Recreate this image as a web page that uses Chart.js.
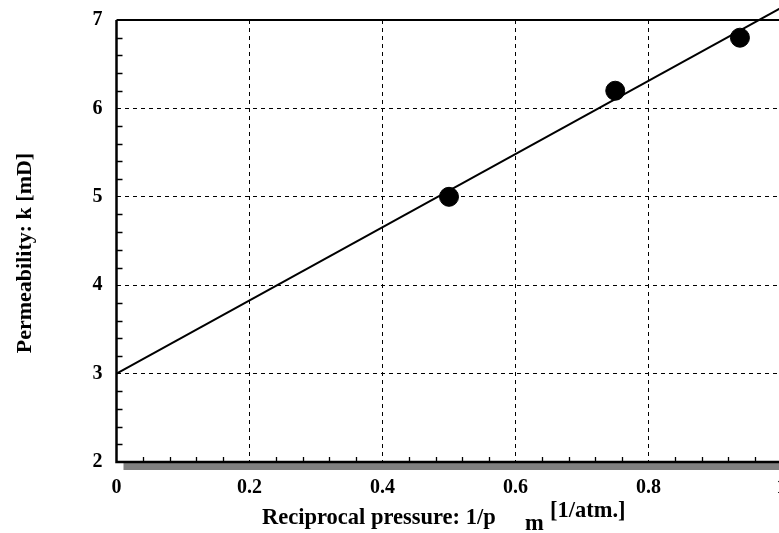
<!DOCTYPE html>
<html>
<head>
<meta charset="utf-8">
<script src="https://cdn.jsdelivr.net/npm/chart.js@4/dist/chart.umd.min.js"></script>
<style>
  html, body { margin: 0; padding: 0; background: #fff; overflow: hidden; }
  #wrap { width: 800px; height: 533px; }
</style>
</head>
<body>
<div id="wrap"><canvas id="myChart" width="800" height="533"></canvas></div>
<script>
// measured points
const pressureInv = [0.5, 0.75, 0.9375];
const permeability = [5.0, 6.2, 6.8];

// fitted straight line (Klinkenberg)
const fitX = [0, 1];
const fitY = [3.0, 7.14];

// tick labels
const xTicks = [0, 0.2, 0.4, 0.6, 0.8, 1];
const yTicks = [2, 3, 4, 5, 6, 7];
const xMinor = [0.04, 0.08, 0.12, 0.16, 0.24, 0.28, 0.32, 0.36, 0.44, 0.48, 0.52, 0.56,
                0.64, 0.68, 0.72, 0.76, 0.84, 0.88, 0.92, 0.96];
const yMinor = [2.2, 2.4, 2.6, 2.8, 3.2, 3.4, 3.6, 3.8, 4.2, 4.4, 4.6, 4.8,
                5.2, 5.4, 5.6, 5.8, 6.2, 6.4, 6.6, 6.8];

const xTitle = 'Reciprocal pressure: 1/p';
const xTitleSub = 'm';
const xTitleUnit = '[1/atm.]';
const yTitle = 'Permeability: k [mD]';

const serif = '"Liberation Serif", "Times New Roman", serif';

// eigene Zeichnungen: Rahmen, kleine Ticks, Schatten, Achsentitel
const decor = {
  id: 'decor',
  beforeDatasetsDraw(chart) {
    const ctx = chart.ctx;
    const a = chart.chartArea;
    const xs = chart.scales.x, ys = chart.scales.y;
    ctx.save();
    // grey shadow under x axis
    ctx.fillStyle = '#808080';
    ctx.fillRect(a.left + 7, a.bottom + 1, chart.width, 7);
    ctx.strokeStyle = '#000';
    ctx.lineWidth = 1.3;
    ctx.beginPath();
    xMinor.forEach(v => {
      const px = Math.round(xs.getPixelForValue(v)) + 0.5;
      ctx.moveTo(px, a.bottom);
      ctx.lineTo(px, a.bottom - 5);
    });
    yMinor.forEach(v => {
      const py = Math.round(ys.getPixelForValue(v)) + 0.5;
      ctx.moveTo(a.left, py);
      ctx.lineTo(a.left + 6, py);
    });
    ctx.stroke();
    // axes + top frame
    ctx.lineWidth = 2.5;
    ctx.beginPath();
    ctx.moveTo(a.left, a.top);
    ctx.lineTo(a.left, a.bottom);
    ctx.lineTo(chart.width, a.bottom);
    ctx.stroke();
    ctx.lineWidth = 2;
    ctx.beginPath();
    ctx.moveTo(a.left, a.top);
    ctx.lineTo(chart.width, a.top);
    ctx.stroke();
    ctx.restore();
  },
  afterDraw(chart) {
    const ctx = chart.ctx;
    ctx.save();
    ctx.fillStyle = '#000';
    ctx.textBaseline = 'alphabetic';
    ctx.font = 'bold 22.5px ' + serif;
    ctx.textAlign = 'left';
    ctx.fillText(xTitle, 262, 524);
    ctx.fillText(xTitleSub, 525, 530);
    ctx.fillText(xTitleUnit, 550, 517);
    ctx.translate(31, 253);
    ctx.rotate(-Math.PI / 2);
    ctx.textAlign = 'center';
    ctx.font = 'bold 22px ' + serif;
    ctx.fillText(yTitle, 0, 0);
    ctx.restore();
  }
};

const gridStyle = {
  color: (c) => (c.tick && (c.tick.value === 0 || c.tick.value === 2 || c.tick.value === 7)) ? 'rgba(0,0,0,0)' : '#000',
  lineWidth: 1,
  drawTicks: false
};

function noPad(s) {
  s.paddingTop = 0;
  s.paddingBottom = 0;
  s.paddingLeft = 0;
  s.paddingRight = 0;
}

new Chart(document.getElementById('myChart'), {
  type: 'scatter',
  data: {
    datasets: [
      {
        label: 'fit',
        data: fitX.map((x, i) => ({ x: x, y: fitY[i] })),
        showLine: true,
        borderColor: '#000',
        borderWidth: 2,
        pointRadius: 0,
        clip: false,
        order: 2
      },
      {
        label: 'k',
        data: pressureInv.map((x, i) => ({ x: x, y: permeability[i] })),
        backgroundColor: '#000',
        borderColor: '#000',
        pointRadius: 9.5,
        pointHoverRadius: 9.5,
        order: 1
      }
    ]
  },
  options: {
    responsive: false,
    animation: false,
    events: [],
    layout: { padding: { top: 20, right: 18.5, left: 0, bottom: 0 } },
    plugins: { legend: { display: false }, tooltip: { enabled: false } },
    scales: {
      x: {
        type: 'linear',
        min: 0,
        max: 1,
        afterBuildTicks: (s) => { s.ticks = xTicks.map(v => ({ value: v })); },
        afterFit: (s) => { s.height = 533 - 462; noPad(s); },
        ticks: {
          color: '#000',
          padding: 14,
          font: { family: serif, size: 20, weight: 'bold' },
          callback: (v) => String(v)
        },
        grid: gridStyle,
        border: { display: false, dash: [4, 4] }
      },
      y: {
        type: 'linear',
        min: 2,
        max: 7,
        afterBuildTicks: (s) => { s.ticks = yTicks.map(v => ({ value: v })); },
        afterFit: (s) => { s.width = 116.5; noPad(s); },
        ticks: {
          color: '#000',
          padding: 14,
          font: { family: serif, size: 20, weight: 'bold' },
          callback: (v) => String(v)
        },
        grid: gridStyle,
        border: { display: false, dash: [4, 4] }
      }
    }
  },
  plugins: [decor]
});
</script>
</body>
</html>
